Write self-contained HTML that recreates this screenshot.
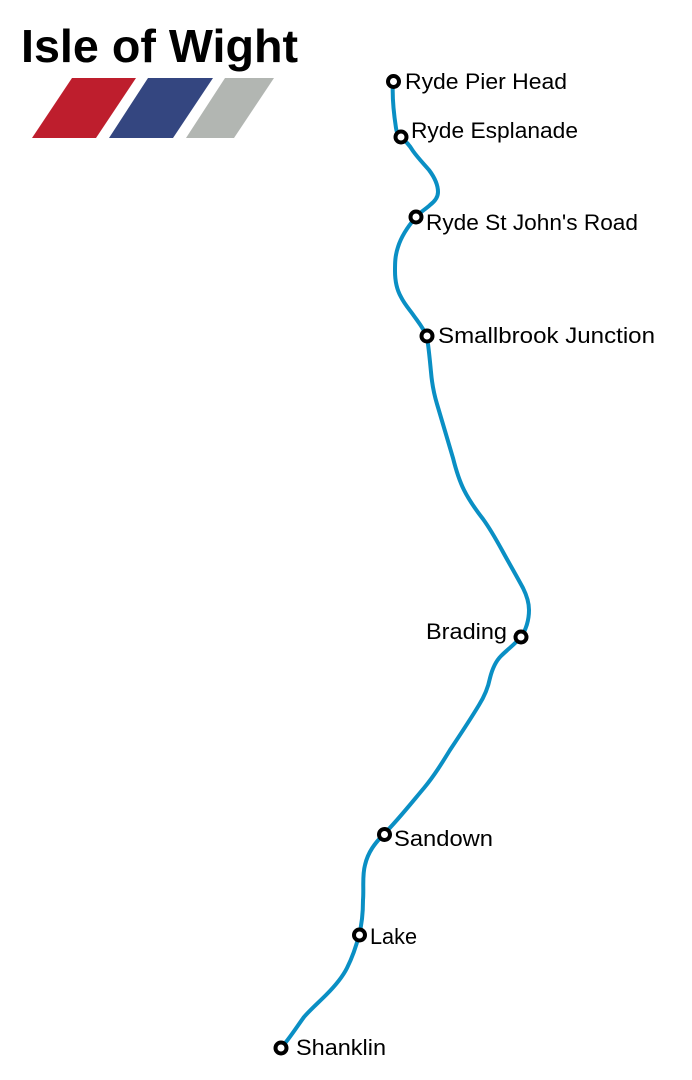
<!DOCTYPE html>
<html>
<head>
<meta charset="utf-8">
<title>Isle of Wight</title>
<style>
html,body{margin:0;padding:0;background:#fff;}
svg{display:block;}
text{font-family:"Liberation Sans",sans-serif;fill:#000;}
.s{font-size:22.5px;}
</style>
</head>
<body>
<svg width="692" height="1080" viewBox="0 0 692 1080" xmlns="http://www.w3.org/2000/svg">
<rect width="692" height="1080" fill="#fff"/>
<text x="21" y="62" font-size="46" font-weight="bold" textLength="277" lengthAdjust="spacingAndGlyphs">Isle of Wight</text>
<polygon points="72,78 136,78 96,138 32,138" fill="#be1e2d"/>
<polygon points="148,78 213,78 173,138 109,138" fill="#344680"/>
<polygon points="225,78 274,78 234,138 186,138" fill="#b2b6b2"/>
<path fill="none" stroke="#0a8fc4" stroke-width="4" stroke-linecap="round" d="M393 81 C392 95 394 115 396 128 C397 134 399 137 401 138 C406 141 410 146 413 151 C418 158 423 163 429 170 C435 178 438 186 438 192 C438 198 434 202 430 205 C426 209 420 212 416 217 C410 224 402 234 398 247 C395 256 395 263 395 271 C395 282 397 290 401 297 C405 305 410 310 414 316 C419 323 424 329 427 337 C429 350 430 362 431 372 C432 384 434 394 437 404 C442 421 448 441 453 458 C456 470 459 480 464 490 C469 500 476 510 483 519 C491 530 497 541 503 552 C509 563 516 575 523 588 C527 596 529 603 529 610 C529 620 526 630 521 637 C515 644 507 650 501 656 C495 662 492 670 490 678 C488 688 484 697 479 705 C470 720 460 735 450 750 C442 763 434 776 424 788 C413 801 398 820 384 834 C375 843 368 852 365 865 C362 876 364 888 363 900 C363 912 362 924 359 935 C356 947 352 958 347 968 C342 978 335 986 326 995 C318 1003 310 1010 304 1017 C298 1025 290 1038 281 1048"/>
<g fill="#fff" stroke="#000" stroke-width="4">
<circle cx="393.5" cy="81.5" r="5.5"/>
<circle cx="401" cy="137" r="5.5"/>
<circle cx="416" cy="217" r="5.5"/>
<circle cx="427" cy="336" r="5.5"/>
<circle cx="521" cy="637" r="5.5"/>
<circle cx="384.5" cy="834.5" r="5.5"/>
<circle cx="359.5" cy="935" r="5.5"/>
<circle cx="281" cy="1048" r="5.5"/>
</g>
<text class="s" x="405" y="89" textLength="162" lengthAdjust="spacingAndGlyphs">Ryde Pier Head</text>
<text class="s" x="411" y="138" textLength="167" lengthAdjust="spacingAndGlyphs">Ryde Esplanade</text>
<text class="s" x="426" y="230" textLength="212" lengthAdjust="spacingAndGlyphs">Ryde St John's Road</text>
<text class="s" x="438" y="343" textLength="217" lengthAdjust="spacingAndGlyphs">Smallbrook Junction</text>
<text class="s" x="426" y="639" textLength="81" lengthAdjust="spacingAndGlyphs">Brading</text>
<text class="s" x="394" y="846" textLength="99" lengthAdjust="spacingAndGlyphs">Sandown</text>
<text class="s" x="370" y="944" textLength="47" lengthAdjust="spacingAndGlyphs">Lake</text>
<text class="s" x="296" y="1055" textLength="90" lengthAdjust="spacingAndGlyphs">Shanklin</text>
</svg>
</body>
</html>
